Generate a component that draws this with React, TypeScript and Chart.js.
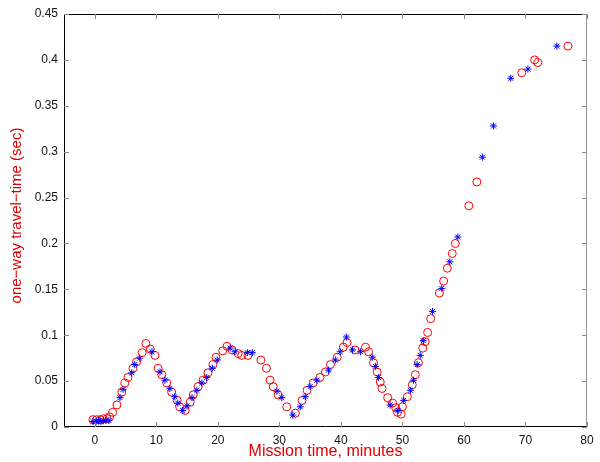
import React, { useEffect, useRef } from "react";
import { Chart, registerables } from "chart.js";

Chart.register(...registerables);

// Red circles: mission time (min) and one-way travel time (sec)
const redX = [
  -0.3, 0.3, 0.9, 1.4, 2.0, 2.4, 2.9, 3.6, 4.4, 4.9, 5.4, 6.2, 6.8, 7.7, 8.3, 9.0, 9.8,
  10.3, 10.9, 11.7, 12.5, 13.4, 13.8, 14.7, 15.5, 16.0, 16.8, 17.6, 18.4, 19.2, 19.7,
  20.8, 21.5, 22.3, 23.3, 23.9, 24.9, 27.0, 27.9, 28.5, 29.0, 29.8, 31.2, 32.6, 33.7,
  34.5, 35.5, 36.6, 37.5, 38.3, 39.4, 40.4, 41.0, 42.3, 44.0, 44.5, 45.3, 45.9, 46.4,
  46.7, 47.6, 48.4, 48.9, 49.2, 49.8, 50.0, 50.8, 51.6, 52.1, 52.6, 53.3, 53.7, 54.1,
  54.6, 56.0, 56.7, 57.3, 58.1, 58.6, 60.8, 62.1, 69.4, 71.5, 72.0, 76.9,
];
const redY = [
  0.008, 0.008, 0.008, 0.009, 0.009, 0.011, 0.016, 0.024, 0.038, 0.048, 0.054, 0.064, 0.071,
  0.081, 0.091, 0.085, 0.078, 0.064, 0.057, 0.048, 0.038, 0.029, 0.022, 0.018, 0.027, 0.035,
  0.044, 0.051, 0.059, 0.068, 0.076, 0.083, 0.088, 0.084, 0.08, 0.078, 0.078, 0.073, 0.064,
  0.051, 0.044, 0.035, 0.022, 0.015, 0.029, 0.04, 0.048, 0.054, 0.06, 0.068, 0.076, 0.087,
  0.092, 0.084, 0.087, 0.082, 0.07, 0.06, 0.049, 0.042, 0.032, 0.026, 0.021, 0.016, 0.014,
  0.022, 0.033, 0.046, 0.057, 0.07, 0.086, 0.093, 0.103, 0.118, 0.146, 0.159, 0.173, 0.189,
  0.2, 0.241, 0.267, 0.386, 0.4, 0.397, 0.415,
];

// Blue asterisks
const blueX = [
  -0.3, 0.2, 0.6, 1.0, 1.4, 1.8, 2.3, 4.1, 4.6, 6.0, 6.5, 7.3, 9.3, 10.6, 11.4, 12.2, 13.0,
  13.5, 14.3, 15.0, 15.8, 16.6, 17.4, 18.2, 19.1, 19.9, 22.0, 22.8, 24.8, 25.6, 29.6, 30.4,
  32.2, 33.4, 34.2, 35.0, 36.1, 38.0, 39.1, 39.9, 40.9, 41.9, 43.2, 45.1, 45.6, 46.1, 48.0,
  49.3, 50.2, 51.3, 51.8, 52.4, 52.9, 53.4, 54.9, 56.4, 57.7, 59.0, 63.0, 64.8, 67.6, 70.4,
  75.1,
];
const blueY = [
  0.006, 0.006, 0.007, 0.006, 0.007, 0.007, 0.007, 0.032, 0.041, 0.059, 0.068, 0.075, 0.082,
  0.06, 0.051, 0.042, 0.033, 0.026, 0.018, 0.023, 0.032, 0.04, 0.048, 0.054, 0.064, 0.073,
  0.086, 0.082, 0.081, 0.081, 0.039, 0.032, 0.013, 0.022, 0.033, 0.044, 0.051, 0.062, 0.073,
  0.082, 0.098, 0.084, 0.082, 0.076, 0.066, 0.054, 0.024, 0.018, 0.029, 0.04, 0.051, 0.068,
  0.078, 0.094, 0.126, 0.151, 0.18, 0.207, 0.294, 0.328, 0.38, 0.39, 0.415,
];

const xTicks = [0, 10, 20, 30, 40, 50, 60, 70, 80];
const yTicks = [0, 0.05, 0.1, 0.15, 0.2, 0.25, 0.3, 0.35, 0.4, 0.45];
const xTitle = "Mission time, minutes";
const yTitle = "one\u2212way travel\u2212time (sec)";

const FONT = "'Liberation Sans', Arial, Helvetica, sans-serif";

const framePlugin = {
  id: "matlabFrame",
  afterDraw(chart: any) {
    const { ctx, chartArea } = chart;
    const { left, right, top, bottom } = chartArea;
    const xs = chart.scales.x;
    const ys = chart.scales.y;
    ctx.save();
    ctx.lineWidth = 1;
    ctx.strokeStyle = "#000";
    ctx.beginPath();
    ctx.moveTo(left + 0.5, top + 0.5);
    ctx.lineTo(right - 0.5, top + 0.5);
    ctx.moveTo(left + 0.5, top + 0.5);
    ctx.lineTo(left + 0.5, bottom - 0.5);
    ctx.lineTo(right - 0.5, bottom - 0.5);
    ctx.stroke();
    ctx.strokeStyle = "#999";
    ctx.beginPath();
    ctx.moveTo(right - 0.5, top + 0.5);
    ctx.lineTo(right - 0.5, bottom - 0.5);
    ctx.stroke();

    ctx.strokeStyle = "#888";
    const tl = 5;
    ctx.beginPath();
    xTicks.forEach((v) => {
      const px = Math.round(xs.getPixelForValue(v)) + 0.5;
      ctx.moveTo(px, bottom);
      ctx.lineTo(px, bottom - tl);
      ctx.moveTo(px, top);
      ctx.lineTo(px, top + tl);
    });
    yTicks.forEach((v) => {
      const py = Math.round(ys.getPixelForValue(v)) + 0.5;
      ctx.moveTo(left, py);
      ctx.lineTo(left + tl, py);
      ctx.moveTo(right, py);
      ctx.lineTo(right - tl, py);
    });
    ctx.stroke();

    ctx.fillStyle = "#e00000";
    ctx.textAlign = "center";
    ctx.textBaseline = "middle";
    ctx.font = `16px ${FONT}`;
    ctx.fillText(xTitle, (left + right) / 2, 452);
    ctx.font = `15px ${FONT}`;
    ctx.translate(17, (top + bottom) / 2 - 5);
    ctx.rotate(-Math.PI / 2);
    ctx.fillText(yTitle, 0, 0);
    ctx.restore();
  },
};

export default function App() {
  const ref = useRef<HTMLCanvasElement | null>(null);

  useEffect(() => {
    if (!ref.current) return;
    const blueData = blueX.map((x, i) => ({ x, y: blueY[i] }));
    const redData = redX.map((x, i) => ({ x, y: redY[i] }));
    const chart = new Chart(ref.current, {
      type: "scatter",
      data: {
        datasets: [
          {
            label: "blue",
            data: blueData,
            pointStyle: "star",
            pointRadius: 3.5,
            borderColor: "#0000ff",
            backgroundColor: "#0000ff",
            borderWidth: 1,
          },
          {
            label: "red",
            data: redData,
            pointStyle: "circle",
            pointRadius: 4,
            borderColor: "#ff0000",
            backgroundColor: "rgba(0,0,0,0)",
            borderWidth: 1,
          },
        ],
      },
      options: {
        animation: false,
        responsive: true,
        maintainAspectRatio: false,
        layout: { padding: { left: 0, top: 14, right: 13, bottom: 0 } },
        plugins: { legend: { display: false }, tooltip: { enabled: false } },
        scales: {
          x: {
            type: "linear",
            min: -5,
            max: 80,
            grid: { display: false, drawTicks: false, tickLength: 0 },
            border: { display: false },
            afterFit: (s: any) => {
              s.height = 35;
            },
            afterBuildTicks: (s: any) => {
              s.ticks = xTicks.map((v) => ({ value: v }));
            },
            ticks: {
              color: "#111",
              padding: 6,
              maxRotation: 0,
              font: { family: FONT, size: 12 },
              callback: (v: any) => String(v),
            },
          },
          y: {
            type: "linear",
            min: 0,
            max: 0.45,
            grid: { display: false, drawTicks: false, tickLength: 0 },
            border: { display: false },
            afterFit: (s: any) => {
              s.width = 64;
            },
            afterBuildTicks: (s: any) => {
              s.ticks = yTicks.map((v) => ({ value: v }));
            },
            ticks: {
              color: "#111",
              padding: 6,
              font: { family: FONT, size: 12 },
              callback: (v: any) => String(Number(Number(v).toFixed(2))),
            },
          },
        },
      },
      plugins: [framePlugin],
    });
    return () => chart.destroy();
  }, []);

  return (
    <div style={{ position: "absolute", left: 0, top: 0, width: 600, height: 462, background: "#fff" }}>
      <canvas ref={ref} />
    </div>
  );
}
